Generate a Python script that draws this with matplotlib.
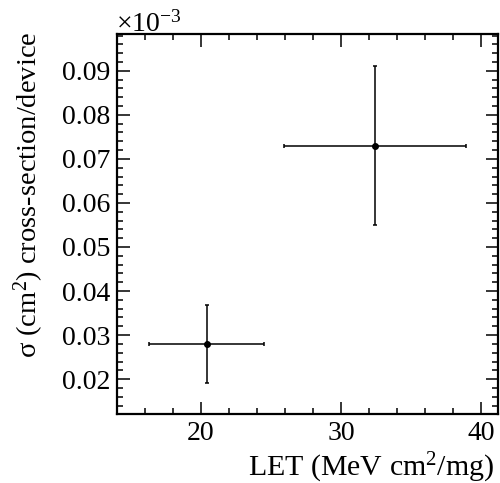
import matplotlib
matplotlib.use("Agg")
import matplotlib.pyplot as plt
from matplotlib.ticker import MultipleLocator, FormatStrFormatter

# data (y in units of 1e-3 cm^2)
let_vals = [20.4, 32.4]
let_err = [4.1, 6.5]
sigma_vals = [0.028, 0.073]
sigma_err = [0.0088, 0.018]

plt.rcParams['font.family'] = ['Liberation Serif', 'DejaVu Serif']
plt.rcParams['mathtext.fontset'] = 'custom'
plt.rcParams['mathtext.rm'] = 'Liberation Serif'
plt.rcParams['mathtext.it'] = 'Liberation Serif:italic'

fig = plt.figure(figsize=(5, 4.83), dpi=100)
ax = fig.add_axes([0.234, 0.143, 0.762, 0.787])

ax.errorbar(let_vals, sigma_vals, xerr=let_err, yerr=sigma_err, fmt='o',
            color='black', markersize=4, elinewidth=1.1, capsize=1.5, capthick=1.1)

ax.set_xlim(14, 41.2)
ax.set_ylim(0.0121, 0.0984)
ax.xaxis.set_major_locator(MultipleLocator(10))
ax.xaxis.set_minor_locator(MultipleLocator(2))
ax.yaxis.set_major_locator(MultipleLocator(0.01))
ax.yaxis.set_minor_locator(MultipleLocator(0.002))
ax.yaxis.set_major_formatter(FormatStrFormatter('%.2f'))

ax.tick_params(which='both', direction='in', top=True, right=True, labelsize=20)
ax.tick_params(which='major', length=9, width=1.1)
ax.tick_params(which='minor', length=4.5, width=1.1)
ax.tick_params(axis='x', pad=5)
ax.tick_params(axis='y', pad=5)
for s in ax.spines.values():
    s.set_linewidth(1.6)

ax.set_xlabel(r'LET (MeV cm$^{2}$/mg)', fontsize=21.5)
ax.xaxis.set_label_coords(0.99, -0.162)
ax.xaxis.label.set_ha('right')
ax.xaxis.label.set_va('baseline')
ax.set_ylabel(r'$\mathrm{\sigma}$ (cm$^{2}$) cross-section/device', fontsize=20.5)
ax.yaxis.set_label_coords(-0.232, 1.005)
ax.yaxis.label.set_ha('right')
ax.yaxis.label.set_va('center')
fig.text(0.232, 0.922, r'$\times$10$^{-3}$', fontsize=20, ha='left', va='bottom')

fig.savefig('out.png', dpi=100)
